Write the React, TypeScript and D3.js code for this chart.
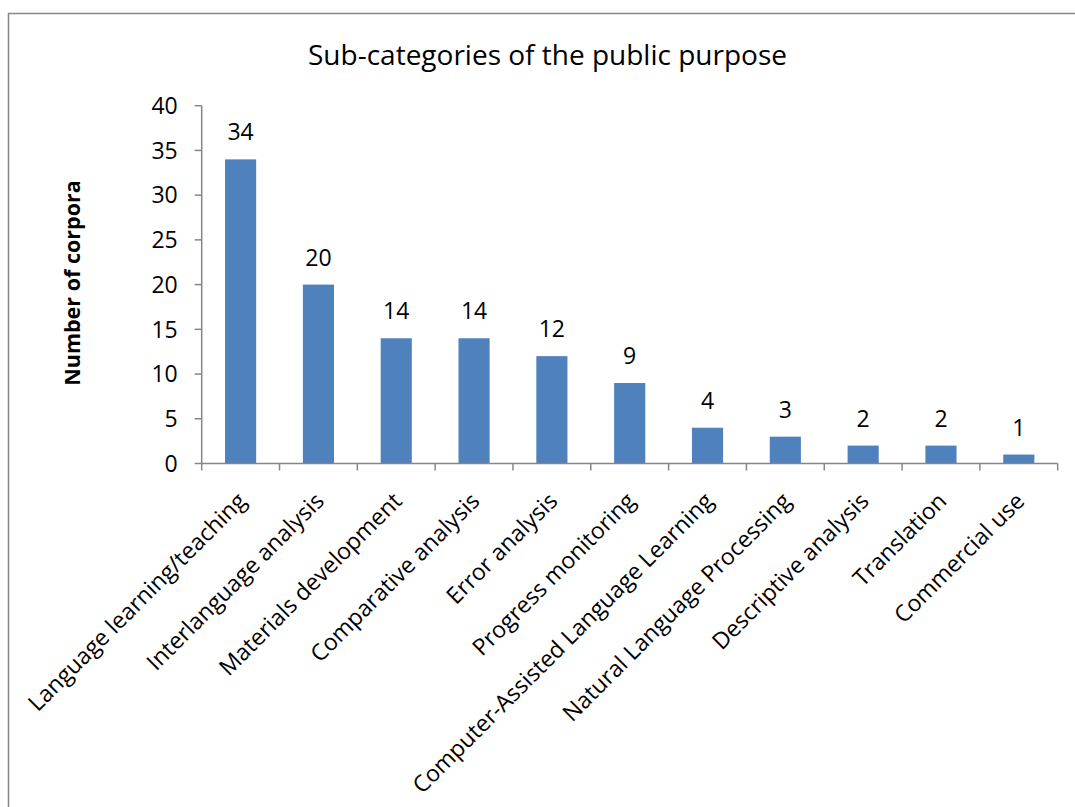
import React from "react";
import * as d3 from "d3";

const categories: string[] = [
  "Language learning/teaching",
  "Interlanguage analysis",
  "Materials development",
  "Comparative analysis",
  "Error analysis",
  "Progress monitoring",
  "Computer-Assisted Language Learning",
  "Natural Language Processing",
  "Descriptive analysis",
  "Translation",
  "Commercial use",
];
const values: number[] = [34, 20, 14, 14, 12, 9, 4, 3, 2, 2, 1];
const yTicks: number[] = [0, 5, 10, 15, 20, 25, 30, 35, 40];
const title = "Sub-categories of the public purpose";
const yTitle = "Number of corpora";

const W = 1075;
const H = 807;
const FONT = "'Open Sans', sans-serif";
const AXIS = "#868686";

export default function App() {
  const x = d3
    .scaleBand<string>()
    .domain(categories)
    .range([201.7, 1057.7])
    .paddingInner(0.6)
    .paddingOuter(0.3);
  const y = d3.scaleLinear().domain([0, 40]).range([463.5, 105.7]);
  const step = x.step();
  const x0 = 201.7;
  const boundaries = d3.range(categories.length + 1).map((i) => x0 + i * step);

  return (
    <svg
      width={W}
      height={H}
      style={{ position: "absolute", left: 0, top: 0, background: "#fff" }}
      fontFamily={FONT}
    >
      <rect x={0} y={0} width={W} height={H} fill="#fff" />
      <rect x={8.5} y={13.5} width={W + 50} height={H + 50} fill="none" stroke={AXIS} strokeWidth={1.5} />
      <text x={547.5} y={65} textAnchor="middle" fontSize={28} fill="#000">
        {title}
      </text>
      <text
        transform={`translate(80,283) rotate(-90)`}
        textAnchor="middle"
        fontSize={21.5}
        fontWeight="bold"
        fill="#000"
      >
        {yTitle}
      </text>
      {/* y axis */}
      <line x1={x0} x2={x0} y1={y(40)} y2={y(0)} stroke={AXIS} strokeWidth={1.5} />
      {yTicks.map((t) => (
        <g key={t}>
          <line x1={x0 - 7} x2={x0} y1={y(t)} y2={y(t)} stroke={AXIS} strokeWidth={1.5} />
          <text x={x0 - 24} y={y(t)} dy="0.36em" textAnchor="end" fontSize={23} fill="#000">
            {t}
          </text>
        </g>
      ))}
      {/* bars */}
      {categories.map((c, i) => (
        <rect
          key={c}
          x={x(c)!}
          y={y(values[i])}
          width={x.bandwidth()}
          height={y(0) - y(values[i])}
          fill="#4F81BD"
        />
      ))}
      {/* data labels */}
      {categories.map((c, i) => (
        <text
          key={c + "l"}
          x={x(c)! + x.bandwidth() / 2}
          y={y(values[i]) - 19}
          textAnchor="middle"
          fontSize={23}
          fill="#000"
        >
          {values[i]}
        </text>
      ))}
      {/* x axis */}
      <line x1={x0} x2={boundaries[boundaries.length - 1]} y1={y(0)} y2={y(0)} stroke={AXIS} strokeWidth={1.5} />
      {boundaries.map((b, i) => (
        <line key={i} x1={b} x2={b} y1={y(0)} y2={y(0) + 7} stroke={AXIS} strokeWidth={1.5} />
      ))}
      {categories.map((c) => {
        const cx = x(c)! + x.bandwidth() / 2 + 7;
        const cy = y(0) + 39;
        return (
          <text
            key={c + "x"}
            transform={`translate(${cx},${cy}) rotate(-45)`}
            textAnchor="end"
            fontSize={23}
            fill="#000"
          >
            {c}
          </text>
        );
      })}
    </svg>
  );
}
